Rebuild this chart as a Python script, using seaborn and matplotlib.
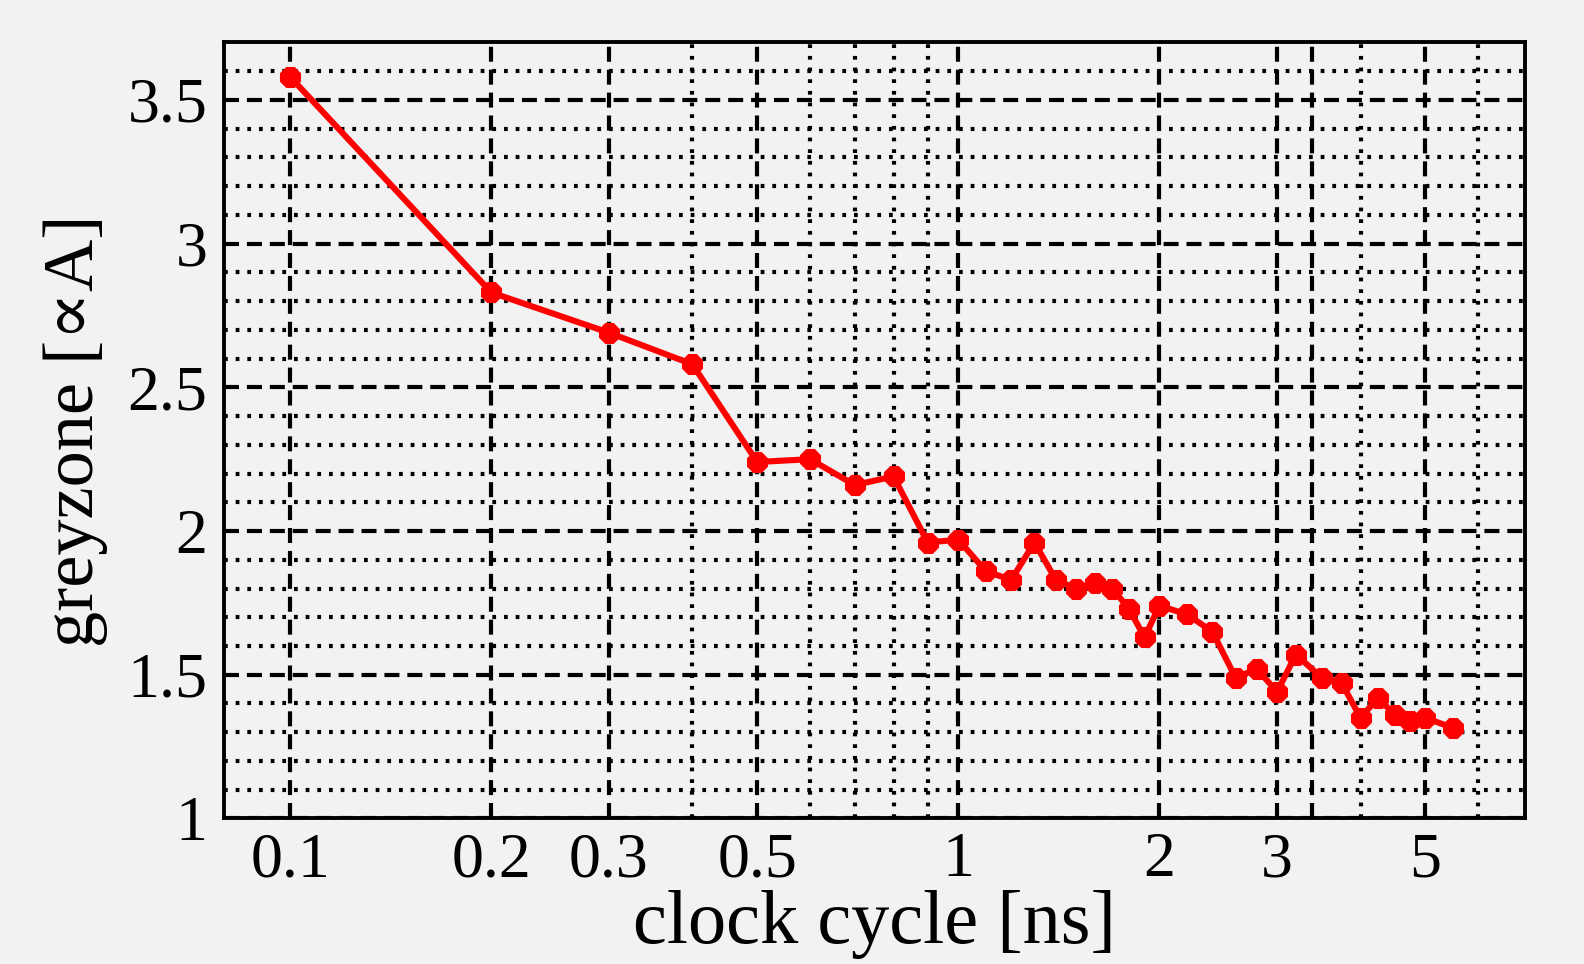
import numpy as np
import pandas as pd
import seaborn as sns
import matplotlib.pyplot as plt
from matplotlib.ticker import FixedLocator, FixedFormatter, NullFormatter

# values
clock_ns = [0.1, 0.2, 0.3, 0.4, 0.5, 0.6, 0.7, 0.8, 0.9, 1.0,
            1.1, 1.2, 1.3, 1.4, 1.5, 1.6, 1.7, 1.8, 1.9, 2.0,
            2.2, 2.4, 2.6, 2.8, 3.0, 3.2, 3.5, 3.75, 4.0, 4.25,
            4.5, 4.75, 5.0, 5.5]
greyzone = [3.58, 2.83, 2.69, 2.58, 2.24, 2.25, 2.16, 2.19, 1.96, 1.97,
            1.86, 1.83, 1.96, 1.83, 1.80, 1.82, 1.80, 1.73, 1.63, 1.74,
            1.71, 1.65, 1.49, 1.52, 1.44, 1.57, 1.49, 1.47, 1.35, 1.42,
            1.36, 1.34, 1.35, 1.315]

x_major = [0.1, 0.2, 0.3, 0.5, 1, 2, 3, 5]
x_major_labels = ['0.1', '0.2', '0.3', '0.5', '1', '2', '3', '5']
x_minor = [0.4, 0.6, 0.7, 0.8, 0.9, 4, 6]
y_major = [1, 1.5, 2, 2.5, 3, 3.5]
y_major_labels = ['1', '1.5', '2', '2.5', '3', '3.5']

df = pd.DataFrame({'clock': clock_ns, 'greyzone': greyzone})

sns.set_style('white')
plt.rcParams['font.family'] = ['Liberation Serif', 'DejaVu Serif']

bg = '#f2f2f2'
fig = plt.figure(figsize=(15.84, 9.64), dpi=100, facecolor=bg)
ax = fig.add_axes([0.1414, 0.151, 0.8216, 0.805])
ax.set_facecolor(bg)

sns.lineplot(data=df, x='clock', y='greyzone', color='#ff0000',
             marker='8', markeredgecolor='#ff0000', ax=ax, zorder=5)
for ln in ax.lines:
    ln.set_linewidth(4.4)
    ln.set_markersize(16)

ax.set_xscale('log')
ax.set_xlim(0.0796, 7.06)
ax.set_ylim(1, 3.7)

ax.xaxis.set_major_locator(FixedLocator(x_major))
ax.xaxis.set_major_formatter(FixedFormatter(x_major_labels))
ax.xaxis.set_minor_locator(FixedLocator(x_minor))
ax.xaxis.set_minor_formatter(NullFormatter())
ax.yaxis.set_major_locator(FixedLocator(y_major))
ax.yaxis.set_major_formatter(FixedFormatter(y_major_labels))
ax.yaxis.set_minor_locator(FixedLocator(np.arange(1.1, 3.7, 0.1)))

dash = (0, (3.6, 1.9))
dot = (0, (0.9, 1.9))
ax.grid(True, which='major', color='black', linestyle=dash, linewidth=3.0)
ax.grid(True, which='minor', color='black', linestyle=dot, linewidth=3.0)
ax.axvline(3.38, color='black', linestyle=dash, linewidth=3.0, zorder=1)

ax.tick_params(axis='both', which='both', direction='in', length=0,
               labelsize=46, colors='black')
ax.tick_params(axis='x', pad=10)
ax.tick_params(axis='y', pad=12)

for s in ax.spines.values():
    s.set_color('black')
    s.set_linewidth(2.8)

ax.set_xlabel('clock cycle [ns]', fontsize=55, labelpad=0, color='black')
ax.set_ylabel('greyzone [\u221dA]', fontsize=52, labelpad=14, color='black')

fig.savefig('out.png', dpi=100, facecolor=bg)
